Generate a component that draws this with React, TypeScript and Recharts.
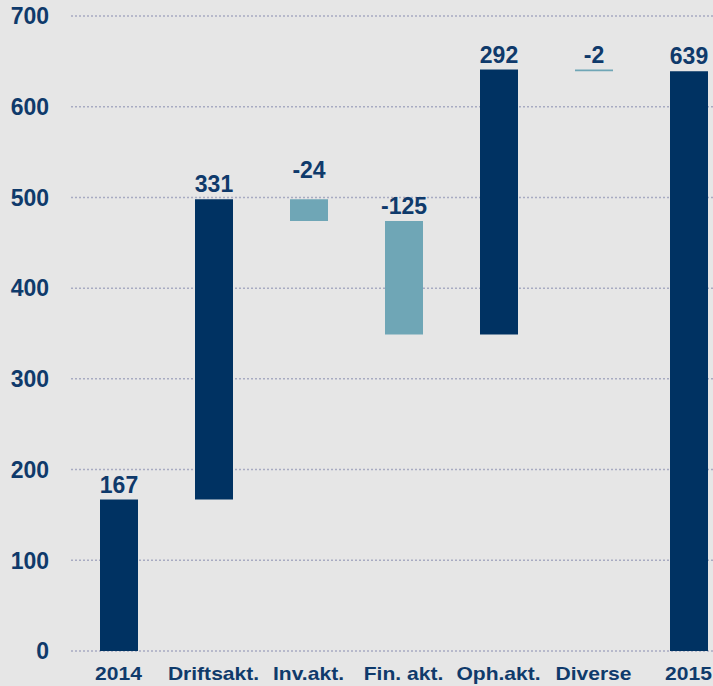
import { BarChart, Bar, XAxis, YAxis, CartesianGrid, Cell, LabelList } from 'recharts';

// Cash flow bridge 2014 -> 2015
const categories = ['2014', 'Driftsakt.', 'Inv.akt.', 'Fin. akt.', 'Oph.akt.', 'Diverse', '2015'];
const changes = [167, 331, -24, -125, 292, -2, 639];
const isTotal = [true, false, false, false, false, false, true];
const valueLabels = ['167', '331', '-24', '-125', '292', '-2', '639'];
const yTicks = [0, 100, 200, 300, 400, 500, 600, 700];

const DARK = '#003262';
const LIGHT = '#6fa6b6';
const TEXT = '#0f3a6b';
const FONT = '"Liberation Sans", Arial, sans-serif';

// labels that sit higher above their bar
const labelLift: Record<string, number> = { 'Inv.akt.': 21 };

let running = 0;
const data = categories.map((name, i) => {
  const change = changes[i];
  let base: number;
  let height: number;
  if (isTotal[i]) {
    base = 0;
    height = change;
    running = change;
  } else {
    base = change >= 0 ? running : running + change;
    height = Math.abs(change);
    running += change;
  }
  return { name, base, height, negative: !isTotal[i] && change < 0, label: valueLabels[i] };
});

const YTick = (props: any) => {
  const { y, payload } = props;
  return (
    <text x={49} y={y} dy="0.36em" textAnchor="end" fill={TEXT} fontSize={23} fontWeight="bold" fontFamily={FONT}>
      {payload.value}
    </text>
  );
};

const XTick = (props: any) => {
  const { x, y, payload } = props;
  return (
    <g transform={`translate(${x},${y}) scale(1.17,1)`}>
      <text x={0} y={21} textAnchor="middle" fill={TEXT} fontSize={18} fontWeight="bold" fontFamily={FONT}>
        {payload.value}
      </text>
    </g>
  );
};

const ValueLabel = (props: any) => {
  const { x, y, width, index } = props;
  const d = data[index];
  const lift = labelLift[d.name] ?? 7;
  return (
    <text x={x + width / 2} y={y - lift} textAnchor="middle" fill={TEXT} fontSize={23} fontWeight="bold" fontFamily={FONT}>
      {d.label}
    </text>
  );
};

export default function App() {
  return (
    <div style={{ position: 'absolute', left: 0, top: 0, width: 713, height: 686, overflow: 'hidden', background: '#e6e6e6' }}>
      <BarChart width={740} height={686} data={data} margin={{ top: 16, right: 4, left: 0, bottom: 0 }} barSize={38}>
        <CartesianGrid vertical={false} stroke="#a8abc2" strokeWidth={1.5} strokeDasharray="2 2" />
        <XAxis dataKey="name" axisLine={false} tickLine={false} height={35} tick={<XTick />} interval={0} />
        <YAxis domain={[0, 700]} ticks={yTicks} axisLine={false} tickLine={false} width={71} tick={<YTick />} />
        <Bar dataKey="base" stackId="a" fill="transparent" isAnimationActive={false} />
        <Bar dataKey="height" stackId="a" isAnimationActive={false}>
          {data.map((d) => (
            <Cell key={d.name} fill={d.negative ? LIGHT : DARK} />
          ))}
          <LabelList dataKey="label" content={<ValueLabel />} />
        </Bar>
      </BarChart>
    </div>
  );
}
